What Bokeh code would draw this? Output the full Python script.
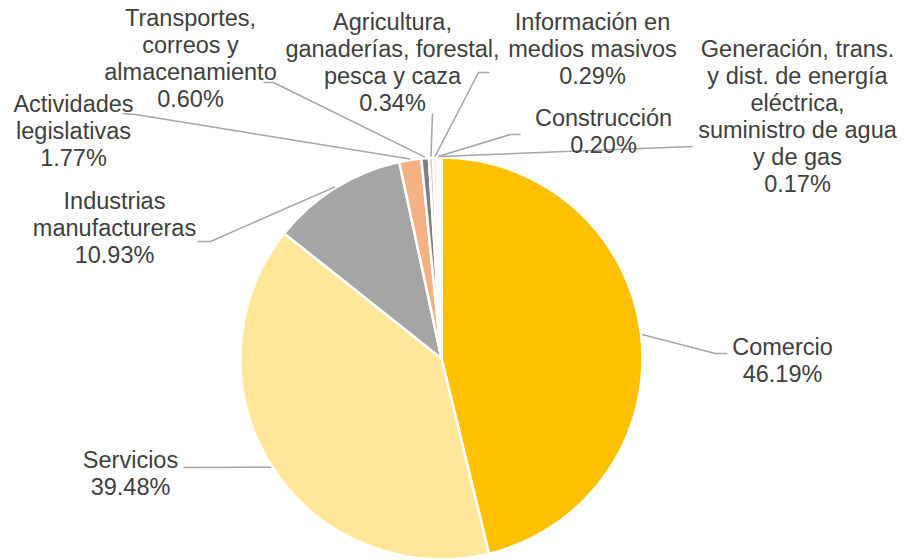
import math
from bokeh.plotting import figure
from bokeh.models import Range1d
from bokeh.core.properties import value
from bokeh.embed import file_html
from bokeh.resources import INLINE

# ---- data ----
categories = [
    "Comercio",
    "Servicios",
    "Industrias\nmanufactureras",
    "Actividades\nlegislativas",
    "Transportes,\ncorreos y\nalmacenamiento",
    "Agricultura,\nganaderías, forestal,\npesca y caza",
    "Información en\nmedios masivos",
    "Construcción",
    "Generación, trans.\ny dist. de energía\neléctrica,\nsuministro de agua\ny de gas",
]
shares = [46.19, 39.48, 10.93, 1.77, 0.60, 0.34, 0.29, 0.20, 0.17]

# ---- styles / layout ----
colors = ["#FFC000", "#FFE699", "#A5A5A5", "#F4B183", "#7F7F7F",
          "#D0D0D0", "#E4E4E4", "#EDEDED", "#F2F2F2"]
# first-line centre of each label (page pixels)
label_pos = [(782, 346), (130, 459), (114, 200), (73, 103), (190, 17),
             (392, 21), (592, 21), (603, 117), (797, 48)]
# leader-line elbow and end points (page pixels)
leader_pts = [
    [(715, 353), (727, 353)],
    [(183, 467)],
    [(210, 241), (197, 241)],
    [(135, 114), (122, 113)],
    [(273, 82), (263, 82)],
    [(432, 113)],
    [(478, 72), (489, 72)],
    [(510, 134), (520, 134)],
    [(692, 146)],
]
CX, CY, R = 441, 358, 201
LINE_H = 27
FONT = "Liberation Sans"
TEXT_COLOR = "#404040"

W, H = 906, 560
p = figure(width=W, height=H, output_backend="svg", toolbar_location=None,
           x_range=Range1d(0, W), y_range=Range1d(-H, 0),
           x_axis_type=None, y_axis_type=None, min_border=0,
           outline_line_color=None, background_fill_color="white",
           border_fill_color="white")
p.grid.visible = False

total = sum(shares)
starts, ends, mids = [], [], []
cum = 0.0
for v in shares:
    a0 = math.pi / 2 - 2 * math.pi * cum / total
    cum += v
    a1 = math.pi / 2 - 2 * math.pi * cum / total
    starts.append(a0)
    ends.append(a1)
    mids.append((a0 + a1) / 2)

p.wedge(x=[CX] * len(shares), y=[-CY] * len(shares), radius=R,
        start_angle=starts, end_angle=ends, direction="clock",
        fill_color=colors, line_color="white", line_width=2.5)

# leader lines
xs, ys = [], []
for m, pts in zip(mids, leader_pts):
    ex = CX + (R + 1) * math.cos(m)
    ey = CY - (R + 1) * math.sin(m)
    xs.append([ex] + [pt[0] for pt in pts])
    ys.append([-ey] + [-pt[1] for pt in pts])
p.multi_line(xs, ys, line_color="#A6A6A6", line_width=1.5)

# labels
tx, ty, tt = [], [], []
for name, v, (lx, ly) in zip(categories, shares, label_pos):
    lines = name.split("\n") + [f"{v:.2f}%"]
    for i, s in enumerate(lines):
        tx.append(lx)
        ty.append(-(ly + i * LINE_H))
        tt.append(s)
p.text(x=tx, y=ty, text=tt, text_align="center", text_baseline="middle",
       text_font=value(FONT), text_font_size="23.5px", text_color=TEXT_COLOR)

open("out.html", "w").write(file_html(p, INLINE))
